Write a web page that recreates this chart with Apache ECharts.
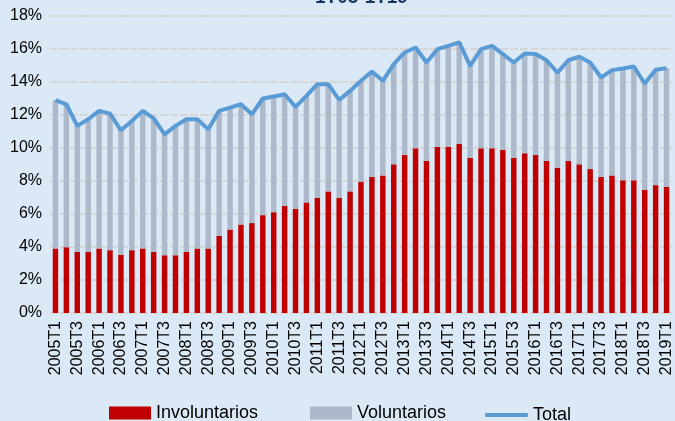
<!DOCTYPE html>
<html>
<head>
<meta charset="utf-8">
<script src="https://cdn.jsdelivr.net/npm/echarts@6/dist/echarts.min.js"></script>
<style>
    html, body { margin: 0; padding: 0; background: #dbe9f6; }
    #chart { width: 675px; height: 421px; }
</style>
</head>
<body>
<div id="chart"></div>
<script>
// trimestres 2005T1 .. 2019T1
var categories = [];
for (var y = 2005; y <= 2019; y++) {
    for (var q = 1; q <= 4; q++) {
        if (y == 2019 && q > 1) break;
        categories.push(y + 'T' + q);
    }
}
var involuntarios = [3.91, 3.99, 3.70, 3.70, 3.91, 3.81, 3.52, 3.81, 3.91, 3.70, 3.50, 3.50, 3.70, 3.91, 3.91, 4.68,
    5.06, 5.36, 5.45, 5.93, 6.11, 6.50, 6.32, 6.70, 6.98, 7.37, 6.98, 7.37, 7.96, 8.24, 8.34, 9.01,
    9.57, 9.98, 9.21, 10.06, 10.06, 10.26, 9.41, 9.98, 9.98, 9.88, 9.41, 9.68, 9.57, 9.21, 8.81, 9.21,
    9.01, 8.72, 8.24, 8.34, 8.04, 8.04, 7.47, 7.75, 7.65];
var voluntarios = [8.99, 8.66, 7.64, 8.04, 8.34, 8.27, 7.55, 7.83, 8.34, 8.10, 7.33, 7.84, 8.04, 7.83, 7.22, 7.57,
    7.39, 7.29, 6.59, 7.07, 7.01, 6.76, 6.17, 6.46, 6.89, 6.50, 5.93, 6.09, 6.11, 6.40, 5.73, 6.07,
    6.22, 6.11, 5.97, 5.93, 6.13, 6.14, 5.57, 6.01, 6.21, 5.81, 5.77, 6.05, 6.12, 6.11, 5.76, 6.11,
    6.52, 6.46, 6.03, 6.38, 6.78, 6.90, 6.44, 6.99, 7.19];
var total = [12.90, 12.65, 11.34, 11.74, 12.25, 12.08, 11.07, 11.64, 12.25, 11.80, 10.83, 11.34, 11.74, 11.74, 11.13, 12.25,
    12.45, 12.65, 12.04, 13.00, 13.12, 13.26, 12.49, 13.16, 13.87, 13.87, 12.91, 13.46, 14.07, 14.64, 14.07, 15.08,
    15.79, 16.09, 15.18, 15.99, 16.19, 16.40, 14.98, 15.99, 16.19, 15.69, 15.18, 15.73, 15.69, 15.32, 14.57, 15.32,
    15.53, 15.18, 14.27, 14.72, 14.82, 14.94, 13.91, 14.74, 14.84];
var yTicks = [0, 2, 4, 6, 8, 10, 12, 14, 16, 18];

var myChart = echarts.init(document.getElementById('chart'));
var font = 'Liberation Sans, Arial, sans-serif';
var legendText = { color: '#000', fontSize: 18, fontFamily: font };

var option = {
    backgroundColor: '#dbe9f6',
    animation: false,
    title: {
        text: '1T05-1T19',
        left: 310,
        top: -17,
        textStyle: { color: '#17375e', fontSize: 19, fontWeight: 'bold', fontFamily: font }
    },
    legend: [
        {
            data: [{ name: 'Involuntarios', icon: 'rect' }], left: 104, top: 399,
            itemWidth: 42, itemHeight: 13, itemGap: 0, textStyle: legendText
        },
        {
            data: [{ name: 'Voluntarios', icon: 'rect' }], left: 305, top: 399,
            itemWidth: 42, itemHeight: 13, itemGap: 0, textStyle: legendText
        },
        {
            // solo la linea, sin simbolo
            data: [{ name: 'Total', icon: 'roundRect' }], left: 480, top: 401,
            itemWidth: 43, itemHeight: 4, itemGap: 0, textStyle: legendText
        }
    ],
    grid: { left: 50, right: 3, top: 16, bottom: 108 },
    xAxis: {
        type: 'category',
        data: categories,
        axisTick: { show: false },
        axisLine: { show: false },
        axisLabel: {
            interval: 1,
            rotate: 90,
            margin: 8,
            color: '#000',
            fontSize: 16,
            fontFamily: font
        }
    },
    yAxis: {
        type: 'value',
        min: yTicks[0],
        max: yTicks[yTicks.length - 1],
        interval: 2,
        axisLine: { show: false },
        axisTick: { show: false },
        axisLabel: {
            formatter: '{value}%',
            margin: 8,
            color: '#000',
            fontSize: 16,
            fontFamily: font
        },
        splitLine: {
            lineStyle: { color: '#d6d6d6', width: 2, type: [8, 2] }
        }
    },
    series: [
        {
            name: 'Involuntarios',
            type: 'bar',
            stack: 'tot',
            barWidth: '50%',
            itemStyle: { color: '#c00000' },
            data: involuntarios
        },
        {
            name: 'Voluntarios',
            type: 'bar',
            stack: 'tot',
            barWidth: '50%',
            itemStyle: { color: '#adb9ca' },
            data: voluntarios
        },
        {
            name: 'Total',
            type: 'line',
            symbol: 'none',
            lineStyle: { color: '#5b9bd5', width: 4 },
            itemStyle: { color: '#5b9bd5' },
            data: total
        }
    ]
};
myChart.setOption(option);
</script>
</body>
</html>
